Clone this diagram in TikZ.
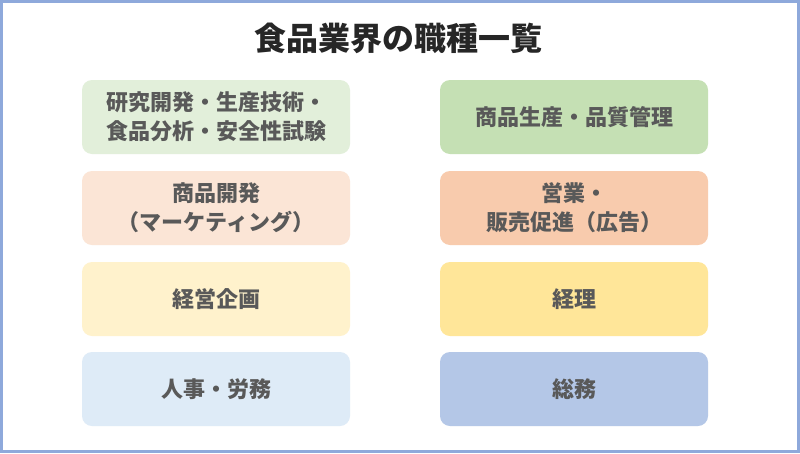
\documentclass[tikz,border=0pt]{standalone}
\usepackage{fontspec}
\newfontfamily\cjk{Noto Sans CJK JP}
\usepackage{tikz}
\usetikzlibrary{positioning}
\definecolor{frameblue}{HTML}{8EA9DB}
\definecolor{textgray}{HTML}{595959}
\definecolor{greenA}{HTML}{E2EFDA}
\definecolor{greenB}{HTML}{C5E0B4}
\definecolor{peachA}{HTML}{FBE5D6}
\definecolor{peachB}{HTML}{F8CBAD}
\definecolor{yellowA}{HTML}{FFF2CC}
\definecolor{yellowB}{HTML}{FFE699}
\definecolor{blueA}{HTML}{DEEBF7}
\definecolor{blueB}{HTML}{B4C7E7}
\tikzset{
    jobbox/.style={rounded corners=10pt, minimum width=268pt, minimum height=74pt,
        align=center, text=textgray, font=\cjk\bfseries\fontsize{22}{29}\selectfont}
}
\begin{document}
\begin{tikzpicture}[x=1pt,y=-1pt]
    % frame
    \fill[white] (0,0) rectangle (800,453);
    \draw[frameblue, line width=3pt] (1.5,1.5) rectangle (798.5,451.5);
    \useasboundingbox (0,0) rectangle (800,453);

    \node[text=black!85, font=\cjk\bfseries\fontsize{32}{36}\selectfont] (title) at (398,38) {食品業界の職種一覧};

    % left column
    \node[jobbox, fill=greenA]  (rd)    at (216,117) {研究開発・生産技術・\\食品分析・安全性試験};
    \node[jobbox, fill=peachA]  (dev)   at (216,208) {商品開発\\（マーケティング）};
    \node[jobbox, fill=yellowA] (plan)  at (216,299) {経営企画};
    \node[jobbox, fill=blueA]   (hr)    at (216,389) {人事・労務};

    % right column
    \node[jobbox, fill=greenB]  (prod)  at (574,117) {商品生産・品質管理};
    \node[jobbox, fill=peachB]  (sales) at (574,208) {営業・\\販売促進（広告）};
    \node[jobbox, fill=yellowB] (acct)  at (574,299) {経理};
    \node[jobbox, fill=blueB]   (admin) at (574,389) {総務};
\end{tikzpicture}
\end{document}
